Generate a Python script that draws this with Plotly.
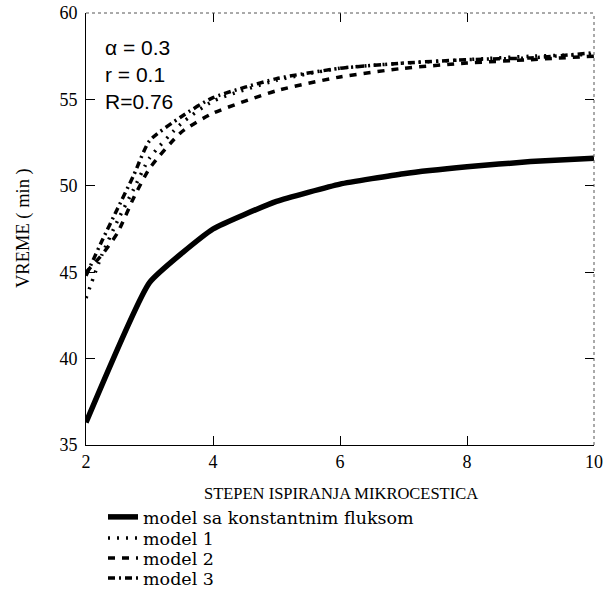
import plotly.graph_objects as go

x_const = [2, 3, 4, 5, 6, 7, 8, 9, 10]
y_const = [36.3, 44.4, 47.5, 49.1, 50.1, 50.7, 51.1, 51.4, 51.6]

x_models = [2, 2.25, 2.5, 2.75, 3, 3.5, 4, 5, 6, 7, 8, 9, 10]
y_model1 = [43.5, 46.0, 48.0, 49.8, 51.6, 53.6, 54.9, 56.1, 56.8, 57.1, 57.3, 57.5, 57.6]
y_model2 = [45.0, 46.0, 47.3, 49.3, 51.0, 53.1, 54.2, 55.5, 56.3, 56.8, 57.1, 57.3, 57.5]
y_model3 = [44.8, 46.8, 48.7, 50.6, 52.6, 54.0, 55.1, 56.2, 56.8, 57.1, 57.3, 57.4, 57.7]

names = ["model sa konstantnim fluksom", "model 1", "model 2", "model 3"]
params = ["α = 0.3", "r = 0.1", "R=0.76"]
x_ticks = [2, 4, 6, 8, 10]
y_ticks = [35, 40, 45, 50, 55, 60]

serif = "Liberation Serif"
wide_serif = "DejaVu Serif"
sans = "Liberation Sans"

W, H = 608, 598
L, R, T, B = 86, 14, 13, 153
PW, PH = W - L - R, H - T - B


def px_x(px):
    return (px - L) / PW


def px_y(py):
    return (H - B - py) / PH


fig = go.Figure()
fig.add_trace(go.Scatter(x=x_const, y=y_const, mode="lines", name=names[0], legend="legend",
                         line=dict(color="black", width=5.5, shape="spline", smoothing=0.4)))
fig.add_trace(go.Scatter(x=x_models, y=y_model1, mode="lines", name=names[1], legend="legend2",
                         line=dict(color="black", width=3.5, dash="2px,7px", shape="spline", smoothing=0.6)))
fig.add_trace(go.Scatter(x=x_models, y=y_model2, mode="lines", name=names[2], legend="legend3",
                         line=dict(color="black", width=3.5, dash="7px,7px", shape="spline", smoothing=0.6)))
fig.add_trace(go.Scatter(x=x_models, y=y_model3, mode="lines", name=names[3], legend="legend4",
                         line=dict(color="black", width=3.5, dash="7px,4px,2px,4px", shape="spline", smoothing=0.6)))
# carrier for the mirrored tick axes (invisible)
fig.add_trace(go.Scatter(x=x_const, y=y_const, xaxis="x2", yaxis="y2", mode="lines",
                         line=dict(width=0), opacity=0, showlegend=False, hoverinfo="skip"))

for i, t in enumerate(params):
    fig.add_annotation(x=px_x(103), y=px_y(48 + i * 27), xref="paper", yref="paper",
                       text=t, showarrow=False, xanchor="left", yanchor="middle",
                       font=dict(family=sans, size=21, color="black"))

fig.add_annotation(x=px_x(341), y=px_y(493), xref="paper", yref="paper",
                   text="STEPEN ISPIRANJA MIKROCESTICA", showarrow=False,
                   xanchor="center", yanchor="middle",
                   font=dict(family=serif, size=16.5, color="black"))
fig.add_annotation(x=px_x(23), y=px_y(228), xref="paper", yref="paper",
                   text="VREME ( min )", showarrow=False, textangle=-90,
                   xanchor="center", yanchor="middle",
                   font=dict(family=serif, size=18.5, color="black"))

# dotted top/right frame
fig.add_shape(type="line", xref="paper", yref="paper", x0=0, x1=1, y0=1, y1=1,
              line=dict(color="#555", width=1, dash="dot"))
fig.add_shape(type="line", xref="paper", yref="paper", x0=1, x1=1, y0=0, y1=1,
              line=dict(color="#555", width=1, dash="dot"))

leg_rows = [517, 538, 558, 578]
legends = {}
for i, row in enumerate(leg_rows):
    key = "legend" if i == 0 else f"legend{i + 1}"
    legends[key] = dict(xref="container", yref="container", x=103 / W, y=1 - row / H,
                        xanchor="left", yanchor="middle",
                        font=dict(family=wide_serif, size=17.5, color="black"),
                        bgcolor="rgba(0,0,0,0)", itemwidth=30)

fig.update_layout(
    width=W, height=H,
    margin=dict(l=L, r=R, t=T, b=B, autoexpand=False),
    paper_bgcolor="white", plot_bgcolor="white",
    showlegend=True,
    xaxis=dict(range=[2, 10], tickvals=x_ticks, ticks="inside", ticklen=9,
               tickcolor="black", showline=True, linecolor="black", linewidth=1,
               showgrid=False, zeroline=False,
               tickfont=dict(family=serif, size=18, color="black")),
    yaxis=dict(range=[35, 60], tickvals=y_ticks, ticks="inside", ticklen=9,
               tickcolor="black", showline=True, linecolor="black", linewidth=1,
               showgrid=False, zeroline=False, ticklabelstandoff=4,
               tickfont=dict(family=serif, size=18, color="black")),
    xaxis2=dict(range=[2, 10], tickvals=x_ticks, ticks="inside", ticklen=9,
                tickcolor="black", showticklabels=False, showline=False,
                showgrid=False, zeroline=False, overlaying="x", side="top", anchor="y2"),
    yaxis2=dict(range=[35, 60], tickvals=y_ticks, ticks="inside", ticklen=9,
                tickcolor="black", showticklabels=False, showline=False,
                showgrid=False, zeroline=False, overlaying="y", side="right", anchor="x2"),
    **legends,
)

fig.write_html("out.html")
